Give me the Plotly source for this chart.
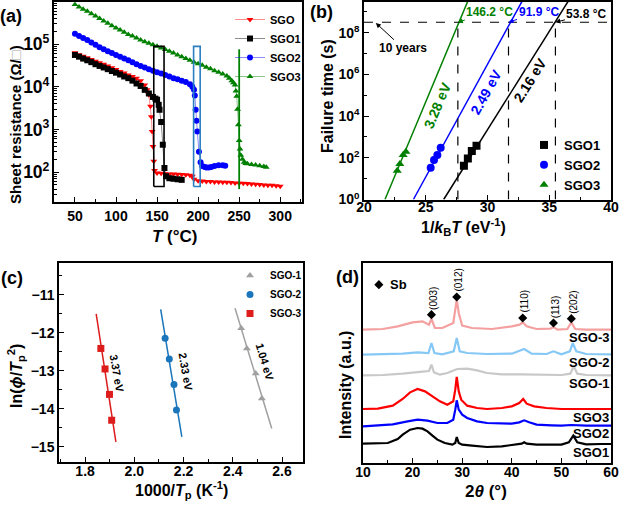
import math
import plotly.graph_objects as go

FONT = "Liberation Sans, Arial, sans-serif"

# ---------------- (a) sheet resistance vs temperature ----------------
T_SGO = [50, 55, 60, 65, 70, 75, 80, 85, 90, 95, 100, 105, 110, 115, 120, 125, 130, 135, 138, 140,
         142, 143, 144, 145, 146, 147, 150, 155, 160, 165, 170, 175, 180, 185, 190, 193, 195, 200,
         205, 210, 215, 220, 225, 230, 235, 240, 245, 250, 255, 260, 265, 270, 275, 280, 285, 290, 295, 300]
R_SGO = [6.3e4, 5.7e4, 5.2e4, 4.8e4, 4.4e4, 4.0e4, 3.7e4, 3.4e4, 3.1e4, 2.8e4, 2.55e4, 2.3e4, 2.1e4,
         1.9e4, 1.75e4, 1.6e4, 1.4e4, 1.1e4, 8.5e3, 6.5e3, 3.5e3, 2e3, 900, 400, 180, 110, 95, 94, 92,
         91, 90, 89, 88, 87, 85, 80, 68, 63, 62, 60, 60, 59, 59, 58, 58, 57, 56, 55, 55, 54, 53, 52, 51,
         50, 49, 49, 48, 47]

T_SGO1 = [50, 55, 60, 65, 70, 75, 80, 85, 90, 95, 100, 105, 110, 115, 120, 125, 130, 135, 140, 145,
          148, 150, 152, 153, 155, 157, 159, 161, 165, 170, 175, 180]
R_SGO1 = [5.6e4, 5.1e4, 4.6e4, 4.2e4, 3.8e4, 3.4e4, 3.1e4, 2.85e4, 2.6e4, 2.35e4, 2.15e4, 1.95e4,
          1.75e4, 1.6e4, 1.4e4, 1.2e4, 1.05e4, 8.5e3, 7e3, 5.8e3, 5.3e3, 5e3, 3.8e3, 2.9e3, 1.5e3,
          440, 125, 80, 72, 70, 68, 66]

T_SGO2 = [50, 55, 60, 65, 70, 75, 80, 85, 90, 95, 100, 105, 110, 115, 120, 125, 130, 135, 140, 145,
          150, 155, 160, 165, 170, 175, 180, 185, 190, 193, 195, 196, 197, 198, 199, 201, 203, 205,
          208, 210, 213, 216, 220, 225, 230, 233]
R_SGO2 = [1.75e5, 1.55e5, 1.4e5, 1.25e5, 1.1e5, 9.7e4, 8.5e4, 7.6e4, 6.8e4, 6.2e4, 5.6e4, 5.1e4,
          4.6e4, 4.2e4, 3.8e4, 3.4e4, 3.1e4, 2.85e4, 2.6e4, 2.4e4, 2.2e4, 2.05e4, 1.9e4, 1.75e4,
          1.6e4, 1.5e4, 1.4e4, 1.3e4, 1.15e4, 1e4, 8.5e3, 6.3e3, 2.9e3, 1.6e3, 900, 300, 170, 140,
          132, 128, 128, 132, 140, 145, 145, 142]

T_SGO3 = [50, 55, 60, 65, 70, 75, 80, 85, 90, 95, 100, 105, 110, 115, 120, 125, 130, 135, 140, 145,
          150, 155, 160, 165, 170, 175, 180, 185, 190, 195, 200, 205, 210, 215, 220, 225, 230, 235,
          238, 241, 243, 245, 246, 247, 248, 249, 250, 251, 252, 254, 256, 258, 260, 265, 270, 275,
          280, 283]
R_SGO3 = [8.5e5, 7.5e5, 6.6e5, 5.9e5, 5.2e5, 4.6e5, 4.0e5, 3.5e5, 3.1e5, 2.7e5, 2.4e5, 2.15e5,
          1.9e5, 1.7e5, 1.55e5, 1.4e5, 1.25e5, 1.15e5, 1.05e5, 9.7e4, 9e4, 8.2e4, 7.5e4, 6.8e4,
          6.2e4, 5.6e4, 5.1e4, 4.6e4, 4.2e4, 3.8e4, 3.5e4, 3.2e4, 2.9e4, 2.65e4, 2.4e4, 2.2e4, 2e4,
          1.8e4, 1.6e4, 1.4e4, 1.25e4, 1.1e4, 8e3, 6e3, 3e3, 1.3e3, 550, 350, 250, 200, 170, 160,
          158, 152, 148, 142, 135, 130]

# transition windows marked in (a)
WIN_SGO1_T = [146, 158.5]
WIN_SGO2_T = [194.5, 202.5]
WIN_R = [46, 8.9e4]
MARK_SGO3_T = 250
MARK_SGO3_R = [40, 7.6e4]

# ---------------- (b) failure time (Arrhenius) ----------------
B_SGO1_X = [28.09, 28.41, 28.73, 29.11]
B_SGO1_Y = [42, 93, 209, 380]
B_SGO2_X = [25.40, 25.67, 25.94, 26.21]
B_SGO2_Y = [33, 78, 135, 302]
B_SGO3_X = [22.69, 22.90, 23.17, 23.39]
B_SGO3_Y = [24, 50, 135, 195]
FIT_SGO1_X = [26.45, 36.6]
FIT_SGO1_Y = [1, 3.7e9]
FIT_SGO2_X = [24.0, 32.8]
FIT_SGO2_Y = [1, 3.2e9]
FIT_SGO3_X = [21.7, 28.4]
FIT_SGO3_Y = [1, 3.2e9]
TEN_YEARS = 3.15e8
CROSS_X = [27.6, 31.7, 35.5]
CROSS_LABELS = ["146.2 °C", "91.9 °C", "53.8 °C"]
EA_B = ["3.28 eV", "2.49 eV", "2.16 eV"]
B_TICKS = [1, 1e2, 1e4, 1e6, 1e8]
B_TICK_TEXT = ["10<sup>0</sup>", "10<sup>2</sup>", "10<sup>4</sup>", "10<sup>6</sup>", "10<sup>8</sup>"]
B_MINOR = [10, 1e3, 1e5, 1e7, 1e9]

# ---------------- (c) Kissinger plot ----------------
C_SGO1_X = [2.434, 2.457, 2.493, 2.518]
C_SGO1_Y = [-11.88, -12.41, -13.07, -13.73]
C_SGO2_X = [2.125, 2.142, 2.161, 2.171]
C_SGO2_Y = [-12.14, -12.69, -13.36, -14.03]
C_SGO3_X = [1.864, 1.881, 1.899, 1.908]
C_SGO3_Y = [-12.41, -12.95, -13.62, -14.30]
CFIT_SGO1_X = [2.409, 2.558]
CFIT_SGO1_Y = [-11.35, -14.52]
CFIT_SGO2_X = [2.107, 2.193]
CFIT_SGO2_Y = [-11.38, -14.74]
CFIT_SGO3_X = [1.845, 1.925]
CFIT_SGO3_Y = [-11.50, -14.87]
EA_C = ["1.04 eV", "2.33 eV", "3.37 eV"]

# ---------------- (d) XRD ----------------
X_SGO1 = [10, 12, 15, 17, 18, 19.5, 21, 22, 23, 24, 25, 26.5, 28, 28.6, 28.9, 29.3, 30, 32, 35, 38,
          40, 42, 42.5, 43, 45, 48, 50, 51.5, 52.4, 53.2, 55, 58, 60]
I_SGO1 = [58, 58, 60, 72, 85, 100, 105, 103, 95, 82, 70, 60, 55, 60, 78, 60, 55, 52, 48, 50, 55, 58,
          62, 58, 55, 55, 55, 62, 82, 62, 56, 57, 57]
X_SGO2 = [10, 13, 16, 19, 21, 23, 25, 27, 28.2, 28.6, 28.9, 29.3, 30, 31, 33, 35, 38, 40, 41.5,
          42.5, 43.5, 45, 48, 50, 52, 55, 60]
I_SGO2 = [110, 112, 116, 125, 130, 127, 120, 120, 130, 160, 188, 160, 145, 135, 125, 120, 118, 118,
          122, 128, 122, 115, 113, 112, 114, 112, 112]
X_SGO3 = [10, 13, 16, 18, 19.5, 21, 22.5, 24, 25.5, 27, 28.2, 28.6, 28.9, 29.3, 29.8, 31, 33, 35,
          38, 40, 41.5, 42.3, 43, 44.5, 47, 50, 55, 60]
I_SGO3 = [162, 163, 172, 192, 212, 222, 215, 200, 185, 175, 185, 220, 258, 215, 190, 172, 165, 162,
          165, 170, 180, 192, 178, 170, 165, 162, 162, 162]
X_SGO_1 = [10, 14, 18, 20, 22, 23.3, 23.8, 24.3, 25.5, 27, 29, 31, 33, 35, 38, 42, 46, 50, 51.8,
           52.5, 53.2, 55, 60]
I_SGO_1 = [263, 264, 268, 272, 274, 276, 295, 272, 265, 270, 282, 283, 278, 270, 266, 266, 265,
           264, 268, 290, 268, 264, 263]
X_SGO_2 = [10, 14, 18, 21, 23.2, 23.8, 24.4, 26, 28.3, 28.9, 29.5, 31, 35, 40, 42.5, 44, 47, 48.4,
           50, 51.7, 52.3, 53, 55, 60]
I_SGO_2 = [325, 326, 328, 332, 330, 360, 330, 326, 335, 375, 335, 330, 327, 328, 342, 328, 327,
           335, 326, 335, 360, 335, 327, 326]
X_SGO_3 = [10, 14, 17, 20, 22, 23.3, 23.8, 24.5, 26, 28.2, 28.6, 28.9, 29.3, 30, 32, 36, 40, 41.6,
           42.2, 43, 45, 47.8, 48.4, 49.2, 51.2, 52, 52.8, 55, 60]
I_SGO_3 = [400, 402, 410, 422, 425, 415, 432, 405, 405, 420, 460, 490, 450, 412, 405, 402, 410,
           415, 422, 410, 402, 403, 408, 400, 402, 422, 402, 400, 400]
SB_2T = [23.8, 28.9, 42.2, 48.4, 52.0]
SB_I = [445, 498, 435, 420, 433]
SB_HKL = ["(003)", "(012)", "(110)", "(113)", "(202)"]

fig = go.Figure()

# ---- (a)
def add_a(x, y, name, color, line_rgba, sym):
    fig.add_trace(go.Scatter(x=x, y=y, name=name, mode="lines+markers",
                             line=dict(color=line_rgba, width=1),
                             marker=dict(symbol=sym, size=6, color=color),
                             xaxis="x", yaxis="y", legend="legend"))

add_a(T_SGO, R_SGO, "SGO", "#ff0000", "rgba(255,0,0,0.45)", "triangle-down")
add_a(T_SGO1, R_SGO1, "SGO1", "#000000", "rgba(0,0,0,0.45)", "square")
add_a(T_SGO2, R_SGO2, "SGO2", "#0000ff", "rgba(0,0,255,0.45)", "circle")
add_a(T_SGO3, R_SGO3, "SGO3", "#008000", "rgba(0,128,0,0.45)", "triangle-up")

for tx, col in ((WIN_SGO1_T, "#000000"), (WIN_SGO2_T, "#2a7fc2")):
    fig.add_trace(go.Scatter(x=[tx[0], tx[1], tx[1], tx[0], tx[0]],
                             y=[WIN_R[0], WIN_R[0], WIN_R[1], WIN_R[1], WIN_R[0]],
                             mode="lines", line=dict(color=col, width=1.6),
                             showlegend=False, hoverinfo="skip", xaxis="x", yaxis="y"))
fig.add_trace(go.Scatter(x=[MARK_SGO3_T, MARK_SGO3_T], y=MARK_SGO3_R, mode="lines",
                         line=dict(color="#008000", width=1.8), showlegend=False,
                         hoverinfo="skip", xaxis="x", yaxis="y"))

# ---- (b)
b_cols = {"SGO1": "#000000", "SGO2": "#0000ff", "SGO3": "#008000"}
for fx, fy, col in ((FIT_SGO3_X, FIT_SGO3_Y, b_cols["SGO3"]), (FIT_SGO2_X, FIT_SGO2_Y, b_cols["SGO2"]),
                    (FIT_SGO1_X, FIT_SGO1_Y, b_cols["SGO1"])):
    fig.add_trace(go.Scatter(x=fx, y=fy, mode="lines", line=dict(color=col, width=1.5),
                             showlegend=False, hoverinfo="skip", xaxis="x2", yaxis="y2"))
fig.add_trace(go.Scatter(x=[20, 40], y=[TEN_YEARS, TEN_YEARS], mode="lines",
                         line=dict(color="black", width=1.2, dash="dash"), showlegend=False,
                         hoverinfo="skip", xaxis="x2", yaxis="y2"))
for cx in CROSS_X:
    fig.add_trace(go.Scatter(x=[cx, cx], y=[1, TEN_YEARS], mode="lines",
                             line=dict(color="black", width=1.2, dash="dash"), showlegend=False,
                             hoverinfo="skip", xaxis="x2", yaxis="y2"))
for x, y, name, sym in ((B_SGO1_X, B_SGO1_Y, "SGO1", "square"), (B_SGO2_X, B_SGO2_Y, "SGO2", "circle"),
                        (B_SGO3_X, B_SGO3_Y, "SGO3", "triangle-up")):
    fig.add_trace(go.Scatter(x=x, y=y, mode="markers", name=name,
                             marker=dict(symbol=sym, size=8, color=b_cols[name]),
                             xaxis="x2", yaxis="y2", legend="legend2"))

# ---- (c)
c_cols = {"SGO-1": "#a0a0a0", "SGO-2": "#1a75bb", "SGO-3": "#dd1c1c"}
for fx, fy, col in ((CFIT_SGO1_X, CFIT_SGO1_Y, c_cols["SGO-1"]), (CFIT_SGO2_X, CFIT_SGO2_Y, c_cols["SGO-2"]),
                    (CFIT_SGO3_X, CFIT_SGO3_Y, c_cols["SGO-3"])):
    fig.add_trace(go.Scatter(x=fx, y=fy, mode="lines", line=dict(color=col, width=1.5),
                             showlegend=False, hoverinfo="skip", xaxis="x3", yaxis="y3"))
for x, y, name, sym in ((C_SGO1_X, C_SGO1_Y, "SGO-1", "triangle-up"), (C_SGO2_X, C_SGO2_Y, "SGO-2", "circle"),
                        (C_SGO3_X, C_SGO3_Y, "SGO-3", "square")):
    fig.add_trace(go.Scatter(x=x, y=y, mode="markers", name=name,
                             marker=dict(symbol=sym, size=7, color=c_cols[name]),
                             xaxis="x3", yaxis="y3", legend="legend3"))

# ---- (d)
d_series = [
    (X_SGO1, I_SGO1, "SGO1", "#000000"),
    (X_SGO2, I_SGO2, "SGO2", "#0000ff"),
    (X_SGO3, I_SGO3, "SGO3", "#ff0000"),
    (X_SGO_1, I_SGO_1, "SGO-1", "#c8c8c8"),
    (X_SGO_2, I_SGO_2, "SGO-2", "#86c8f5"),
    (X_SGO_3, I_SGO_3, "SGO-3", "#f4a0a0"),
]
for x, y, name, col in d_series:
    fig.add_trace(go.Scatter(x=x, y=y, mode="lines", name=name, line=dict(color=col, width=2.2),
                             showlegend=False, xaxis="x4", yaxis="y4"))
fig.add_trace(go.Scatter(x=SB_2T, y=SB_I, mode="markers", name="Sb",
                         marker=dict(symbol="diamond", size=7, color="black"),
                         showlegend=False, xaxis="x4", yaxis="y4"))
fig.add_trace(go.Scatter(x=[13.2], y=[535], mode="markers", name="Sb key",
                         marker=dict(symbol="diamond", size=7, color="black"),
                         showlegend=False, hoverinfo="skip", xaxis="x4", yaxis="y4"))

# ---------------- axes ----------------
W, H = 620, 509


def px(x0, x1):
    return [x0 / W, x1 / W]


def py(top, bottom):
    return [1 - bottom / H, 1 - top / H]


def axis(**kw):
    d = dict(showline=True, linecolor="black", linewidth=1.5, mirror=True, ticks="inside",
             ticklen=5, tickwidth=1.3, tickcolor="black", showgrid=False, zeroline=False,
             tickfont=dict(family=FONT, size=14, color="black", weight="bold"), automargin=False)
    d.update(kw)
    return d


lay = dict(
    width=W, height=H, margin=dict(l=0, r=0, t=0, b=0),
    paper_bgcolor="white", plot_bgcolor="white", showlegend=True,
    font=dict(family=FONT, color="black"),
    xaxis=axis(domain=px(54, 302), range=[24.5, 326.5], dtick=50, tick0=0, anchor="y",
               minor=dict(ticks="inside", ticklen=3, dtick=25, tick0=0, tickcolor="black")),
    yaxis=axis(domain=py(2, 202), type="log", range=[1.30, 5.99], dtick=1, exponentformat="power",
               anchor="x", ticklen=5,
               minor=dict(ticks="inside", ticklen=3, dtick="D1", tickcolor="black")),
    xaxis2=axis(domain=px(364, 611), range=[20, 40], dtick=5, anchor="y2", ticklabelstandoff=-6,
                minor=dict(ticks="inside", ticklen=3, dtick=2.5, tickcolor="black")),
    yaxis2=axis(domain=py(2, 199.5), type="log", range=[0, 9.47], tickmode="array",
                tickvals=B_TICKS, ticktext=B_TICK_TEXT, anchor="x2",
                minor=dict(ticks="inside", ticklen=3, tickmode="array", tickvals=B_MINOR,
                           tickcolor="black")),
    xaxis3=axis(domain=px(59, 303), range=[1.694, 2.685], dtick=0.2, tick0=0, tickformat=".1f",
                anchor="y3", ticklabelstandoff=-5,
                minor=dict(ticks="inside", ticklen=3, dtick=0.1, tick0=0, tickcolor="black")),
    yaxis3=axis(domain=py(263, 462), range=[-15.4, -10.16], dtick=1, anchor="x3",
                minor=dict(ticks="inside", ticklen=3, dtick=0.5, tickcolor="black")),
    xaxis4=axis(domain=px(363, 611), range=[10, 60], dtick=10, anchor="y4", ticklabelstandoff=-5,
                minor=dict(ticks="inside", ticklen=3, dtick=5, tickcolor="black")),
    yaxis4=axis(domain=py(263, 463), range=[0, 600], anchor="x4", showticklabels=False, ticks=""),
    legend=dict(x=230 / W, y=1 - 5 / H, xanchor="left", yanchor="top", bgcolor="rgba(0,0,0,0)",
                font=dict(family=FONT, size=11, color="black", weight="bold"), itemwidth=30,
                tracegroupgap=0),
    legend2=dict(x=524 / W, y=1 - 130 / H, xanchor="left", yanchor="top", bgcolor="rgba(0,0,0,0)",
                 font=dict(family=FONT, size=13, color="black", weight="bold"), itemwidth=30,
                 tracegroupgap=0),
    legend3=dict(x=230 / W, y=1 - 261 / H, xanchor="left", yanchor="top", bgcolor="rgba(0,0,0,0)",
                 font=dict(family=FONT, size=10, color="black", weight="bold"), itemwidth=30,
                 tracegroupgap=0),
)
fig.update_layout(**lay)

ann = []


def txt(x, y, text, size=16, angle=0, color="black", weight="bold", xref="paper", yref="paper",
        xanchor="center", yanchor="middle", **kw):
    ann.append(dict(x=x, y=y, xref=xref, yref=yref, text=text, showarrow=False, textangle=angle,
                    font=dict(family=FONT, size=size, color=color, weight=weight),
                    xanchor=xanchor, yanchor=yanchor, **kw))


def P(xp, yp):
    return xp / W, 1 - yp / H


# panel labels
for lbl, (xp, yp) in (("(a)", (11, 16)), ("(b)", (321, 12)), ("(c)", (12, 278)), ("(d)", (347, 277))):
    txt(*P(xp, yp), lbl, size=18)

# axis titles
txt(*P(175, 236), "<i>T</i> (°C)", size=17)
txt(*P(15, 125), "Sheet resistance (Ω/<span style='color:#a8a8a8'>□</span>)", size=15, angle=-90)
txt(*P(463, 227), "1/<i>k</i><sub>B</sub><i>T</i> (eV<sup>-1</sup>)", size=16)
txt(*P(327, 96), "Failure time (s)", size=16, angle=-90)
txt(*P(182, 490), "1000/<i>T</i><sub>p</sub> (K<sup>-1</sup>)", size=16)
txt(*P(16, 376), "ln(<i>ϕ</i>/<i>T</i><sub>p</sub><sup>2</sup>)", size=16, angle=-90)
txt(*P(486, 491), "2<i>θ</i> (°)", size=17)
txt(*P(345, 385), "Intensity (a.u.)", size=16, angle=-90)

# (b) annotations
ly = math.log10(TEN_YEARS)
b_lab_cols = ["#008000", "#0000ff", "#000000"]
b_offsets = [(32, -10), (30, -10), (31, -8)]
for cx, lab, col, (dx, dy) in zip(CROSS_X, CROSS_LABELS, b_lab_cols, b_offsets):
    ann.append(dict(x=cx, y=ly, xref="x2", yref="y2", text=lab, showarrow=True, ax=dx, ay=dy,
                    arrowhead=2, arrowsize=1, arrowwidth=1, arrowcolor=col, standoff=0,
                    font=dict(family=FONT, size=12, color=col, weight="bold")))
ann.append(dict(x=20.9, y=ly, xref="x2", yref="y2", text="10 years", showarrow=True, ax=28, ay=26,
                arrowhead=2, arrowsize=1, arrowwidth=1, arrowcolor="black", standoff=1,
                font=dict(family=FONT, size=12, color="black", weight="bold")))
for lab, col, (x, y), ang in zip(EA_B, b_lab_cols, [(25.97, 4.52), (29.9, 5.14), (33.47, 5.71)],
                                 [-67, -61, -58]):
    txt(x, y, lab, size=14, angle=ang, color=col, xref="x2", yref="y2")

# (c) annotations
for lab, (x, y), ang in zip(EA_C, [(2.531, -12.76), (2.21, -13.02), (1.931, -13.07)], [73, 80, 80]):
    txt(x, y, lab, size=11, angle=ang, xref="x3", yref="y3")

# (d) annotations
for x, y, lab in zip(SB_2T, SB_I, SB_HKL):
    txt(x + 0.3, y + 50, lab, size=10, angle=-90, weight="normal", xref="x4", yref="y4")
txt(15.0, 535, "Sb", size=13, xref="x4", yref="y4", xanchor="left")
for x, y, name, col in d_series:
    txt(611 / W, y[-1] - 24, name, size=13, xref="paper", yref="y4", xanchor="right")

fig.update_layout(annotations=ann)
fig.write_html("out.html", config={"displayModeBar": False},
               post_script="document.body.style.margin='0px';document.documentElement.style.margin='0px';")
